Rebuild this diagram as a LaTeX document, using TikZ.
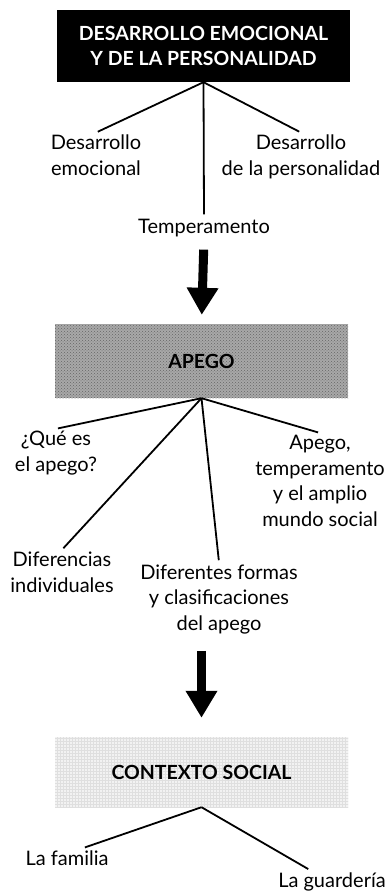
\documentclass[tikz,border=0pt]{standalone}
\usepackage{fontspec}
\setmainfont{Lato}
\usetikzlibrary{arrows.meta,patterns}

\tikzset{
  titulo/.style={minimum width=293pt, align=center, inner sep=0pt,
    font=\bfseries\fontsize{19.5}{25}\selectfont},
  etiqueta/.style={align=center, inner sep=2pt, font=\fontsize{20}{25.5}\selectfont},
  rama/.style={line width=1.8pt, shorten >=2pt},
  flecha/.style={line width=9pt, -{Triangle[width=30pt,length=27pt]}},
}

\begin{document}
\begin{tikzpicture}[x=1pt,y=-1pt]
\useasboundingbox (0,0) rectangle (388,891);
%bloque desarrollo
\node[titulo, fill=black, text=white, minimum height=72pt] (desarrollo) at (203.5,46)
  {DESARROLLO EMOCIONAL\\Y DE LA PERSONALIDAD};
\node[etiqueta, anchor=base] (emocional) at (96,175) {Desarrollo\\emocional}; %base = ultima linea
\node[etiqueta, anchor=base] (personalidad) at (301,175) {Desarrollo\\de la personalidad};
\node[etiqueta, anchor=base] (temp) at (204,233) {Temperamento};
\draw[rama] (desarrollo.south) -- (emocional.north);
\draw[rama] (desarrollo.south) -- (personalidad.north);
\draw[rama] (desarrollo.south) -- (temp.north);

%bloque apego
\node[titulo, fill=gray!68, postaction={pattern=crosshatch dots, pattern color=black!60},
  minimum height=74pt] (apego) at (201.5,361) {APEGO};
\draw[flecha, shorten <=11pt, shorten >=9pt] (temp.south) -- (apego.north);
\node[etiqueta, anchor=base] (quees) at (56,471) {¿Qué es\\el apego?};
\node[etiqueta, anchor=base] (amplio) at (320,526) {Apego,\\temperamento\\y el amplio\\mundo social};
\node[etiqueta, anchor=base] (diferencias) at (62,592) {Diferencias\\individuales};
\node[etiqueta, anchor=base] (formas) at (219,630) {Diferentes formas\\y clasificaciones\\del apego};
\draw[rama] (apego.south) -- (quees.north);
\draw[rama] (apego.south) -- (amplio.north);
\draw[rama] (apego.south) -- (diferencias.north);
\draw[rama] (apego.south) -- (formas.north);

%bloque contexto social
\node[titulo, fill=gray!10, postaction={pattern=grid, pattern color=gray!25},
  minimum height=70pt] (contexto) at (201.5,772) {CONTEXTO SOCIAL};
\draw[flecha, shorten <=15pt, shorten >=19pt] (apego.south |- formas.south) -- (contexto.north);
\node[etiqueta, anchor=base] (familia) at (67,865) {La familia};
\node[etiqueta, anchor=base] (guarderia) at (332,887) {La guardería};
\draw[rama] (contexto.south) -- ([xshift=16pt]familia.north);
\draw[rama] (contexto.south) -- ([xshift=-22pt]guarderia.north);
\end{tikzpicture}
\end{document}
